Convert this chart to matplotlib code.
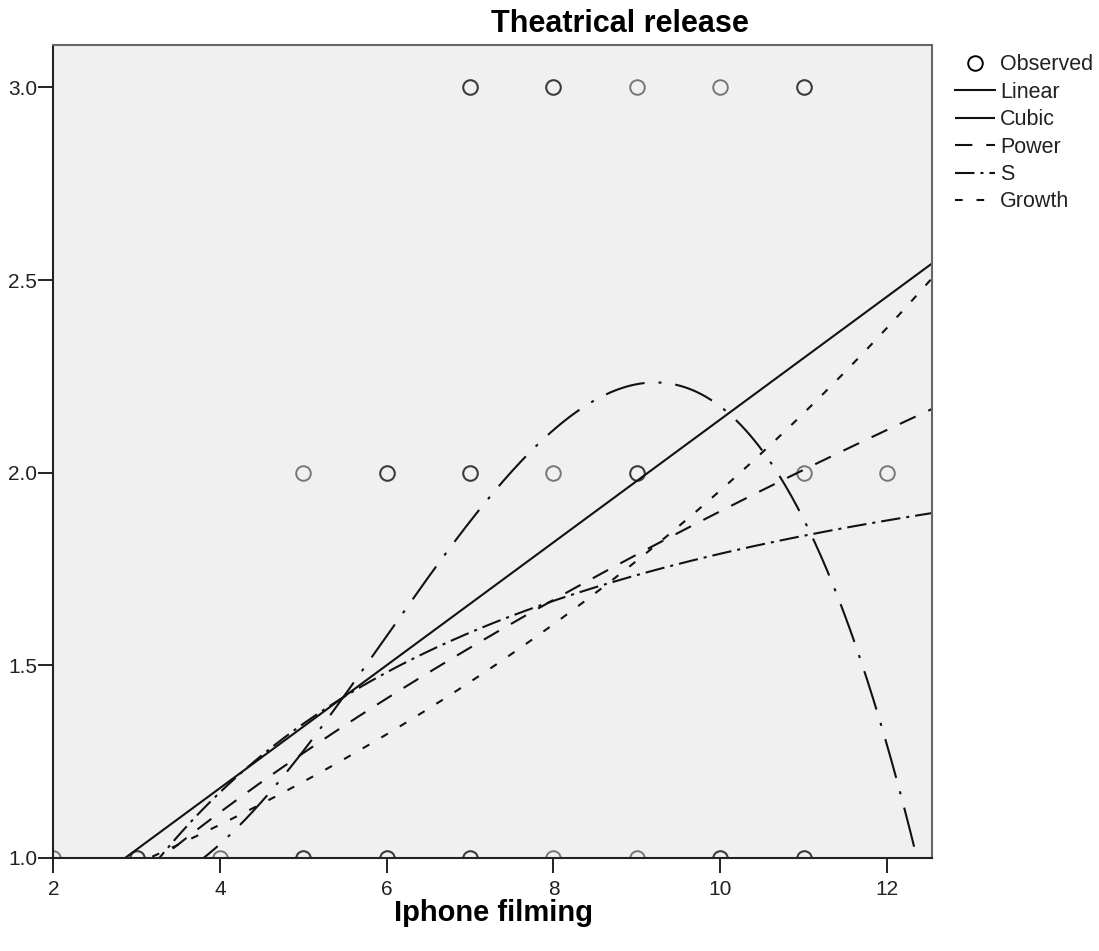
import numpy as np
import matplotlib
matplotlib.use("Agg")
import matplotlib.pyplot as plt

plt.rcParams["font.family"] = ["Liberation Sans", "DejaVu Sans"]
plt.rcParams["lines.scale_dashes"] = False

# observed points (repeats = overlapping cases, drawn darker)
obs_x = [7, 7, 8, 8, 9, 10, 11, 11,
         5, 6, 6, 7, 7, 8, 9, 9, 11, 12,
         2, 3, 3, 4, 5, 5, 6, 6, 7, 7, 8, 9, 10, 10, 11, 11]
obs_y = [3, 3, 3, 3, 3, 3, 3, 3,
         2, 2, 2, 2, 2, 2, 2, 2, 2, 2,
         1, 1, 1, 1, 1, 1, 1, 1, 1, 1, 1, 1, 1, 1, 1, 1]

# fitted model coefficients
linear_b = [0.544, 0.1594]                          # b0 + b1*x
cubic_b = [1.802, -0.7326, 0.17416, -0.00972]       # b0 + b1 x + b2 x^2 + b3 x^3
power_b = [0.502, 0.578]                            # b0 * x^b1
s_b = [0.865, -2.83]                                # exp(b0 + b1/x)
growth_b = [-0.3083, 0.0978]                        # exp(b0 + b1*x)

x_ticks = [2, 4, 6, 8, 10, 12]
y_ticks = [1.0, 1.5, 2.0, 2.5, 3.0]
y_labels = ["1.0", "1.5", "2.0", "2.5", "3.0"]

fig = plt.figure(figsize=(10.99, 9.51), dpi=100)
ax = fig.add_axes([0.0485, 0.0978, 0.7995, 0.8549])
ax.set_facecolor("#f0f0f0")

xs = np.linspace(2, 12.54, 600)
lin = linear_b[0] + linear_b[1] * xs
cub = cubic_b[0] + cubic_b[1] * xs + cubic_b[2] * xs**2 + cubic_b[3] * xs**3
pw = power_b[0] * xs ** power_b[1]
sc = np.exp(s_b[0] + s_b[1] / xs)
gr = np.exp(growth_b[0] + growth_b[1] * xs)

ax.plot(obs_x, obs_y, "o", ms=10.5, mfc="none", mec="black", mew=1.4,
        alpha=0.5, label="Observed")
lw = 1.5
ax.plot(xs, lin, color="#111111", lw=lw, label="Linear")
ax.plot(xs, cub, color="#111111", lw=lw, dashes=(29, 10, 2.2, 10), label="Cubic")
ax.plot(xs, pw, color="#111111", lw=lw, dashes=(12.5, 10), label="Power")
ax.plot(xs, sc, color="#111111", lw=lw, dashes=(14, 4.3, 2.2, 4.3), label="S")
ax.plot(xs, gr, color="#111111", lw=lw, dashes=(5.5, 10), label="Growth")

ax.set_xlim(2, 12.54)
ax.set_ylim(1.0, 3.11)
ax.set_xticks(x_ticks)
ax.set_yticks(y_ticks)
ax.set_yticklabels(y_labels)
ax.tick_params(axis="both", direction="out", length=10.5, width=1.4,
               color="#222222", labelsize=15, labelcolor="#222222")
ax.tick_params(axis="x", pad=5)
ax.tick_params(axis="y", pad=1)
for side in ["left", "bottom"]:
    ax.spines[side].set_color("#222222")
    ax.spines[side].set_linewidth(1.5)
for side in ["right", "top"]:
    ax.spines[side].set_color("#666666")
    ax.spines[side].set_linewidth(1.5)

fig.text(0.564, 0.975, "Theatrical release", fontsize=22, fontweight="bold",
         ha="center", va="center")
fig.text(0.449, 0.040, "Iphone filming", fontsize=21, fontweight="bold",
         ha="center", va="center")

leg = ax.legend(loc="upper left", bbox_to_anchor=(0.869, 0.943),
                bbox_transform=fig.transFigure, frameon=False, fontsize=15.5,
                handlelength=1.85, handletextpad=0.25, labelspacing=0.3,
                borderpad=0, borderaxespad=0, labelcolor="#222222")
for h in leg.legend_handles:
    h.set_alpha(1)

fig.savefig("out.png", dpi=100)
